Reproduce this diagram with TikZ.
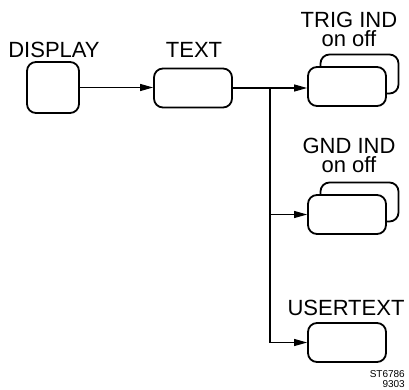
\documentclass[tikz,border=0pt]{standalone}
\usepackage{fontspec}
\setmainfont{Liberation Sans}
\usetikzlibrary{arrows.meta,positioning,calc}

\begin{document}
\begin{tikzpicture}[x=1pt, y=-1pt,
      panel/.style={draw=black, line width=1.8pt, rounded corners=9pt, fill=white,
                    minimum width=78pt, minimum height=39pt, inner sep=0pt},
      lbl/.style={font=\fontsize{22}{19}\selectfont, align=center, inner sep=0pt},
      tag/.style={font=\fontsize{10}{10}\selectfont, align=right, inner sep=0pt},
      flow/.style={-{Triangle[length=13pt, width=7pt]}, line width=1.2pt, draw=black}]
    \useasboundingbox (0,0) rectangle (409,389);
    % boxes
    \node[panel, minimum width=52pt, minimum height=51pt] (disp) at (53,87.5) {};
    \node[panel] (txt) at (193,88) {};
    \node[panel] (trigb) at (359.5,74) {};
    \node[panel] (trigf) at (347,86.5) {};
    \node[panel] (gndb) at (359.5,202) {};
    \node[panel] (gndf) at (347,214.5) {};
    \node[panel] (userf) at (347,342.5) {};
    % labels (base = last line)
    \node[lbl, anchor=base] (displbl) at (54,57) {DISPLAY};
    \node[lbl, anchor=base] (txtlbl) at (194,57) {TEXT};
    \node[lbl, anchor=base] (triglbl) at (349,46) {TRIG IND\\on off};
    \node[lbl, anchor=base] (gndlbl) at (349,172) {GND IND\\on off};
    \node[lbl, anchor=base] (userlbl) at (346,315) {USERTEXT};
    \node[tag, anchor=base east] (stamp) at (405,387) {ST6786\\9303};
    % connectors
    \coordinate (br) at (270,88);
    \draw[flow] (disp.east) -- (disp.east -| txt.west);
    \draw[line width=1.2pt] (txt.east) -- (br);
    \draw[flow] (br) -- (br -| trigf.west);
    \draw[flow] (br |- gndf.west) -- (gndf.west);
    \draw[flow] (br) |- (userf.west);
\end{tikzpicture}
\end{document}
